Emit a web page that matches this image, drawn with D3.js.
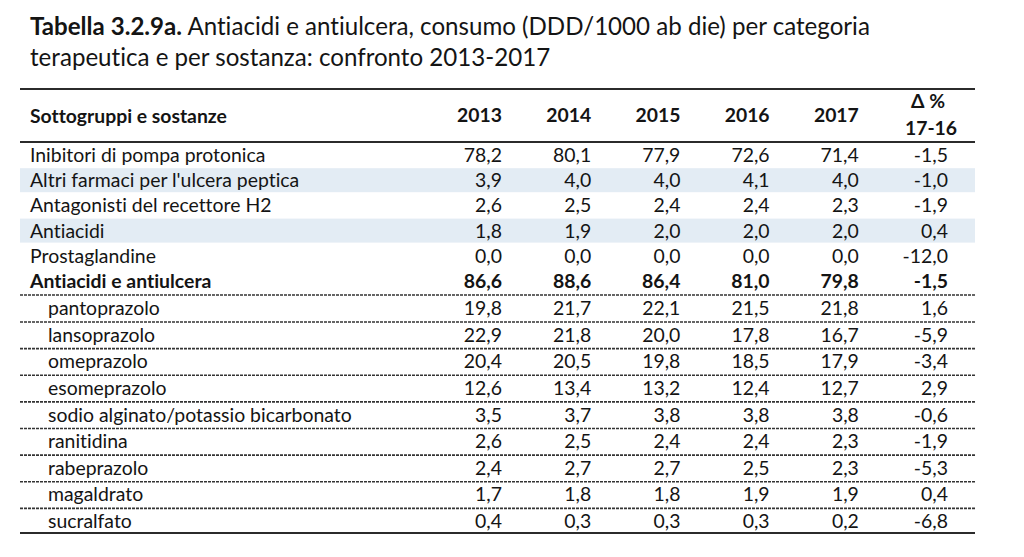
<!DOCTYPE html>
<html><head><meta charset="utf-8">
<script src="https://cdn.jsdelivr.net/npm/d3@7"></script>
<style>html,body{margin:0;padding:0;background:#fff;}svg{display:block;}
text{font-variant-ligatures:none;font-feature-settings:"liga" 0,"clig" 0;}</style>
</head><body>
<svg id="c" width="1024" height="557"></svg>
<script>
// ---- data ----
const columns = ["2013", "2014", "2015", "2016", "2017", "delta"];
const headerYears = ["2013", "2014", "2015", "2016", "2017"];
const deltaHeader = ["Δ %", "17-16"];
const categories = ["Inibitori di pompa protonica", "Altri farmaci per l'ulcera peptica", "Antagonisti del recettore H2", "Antiacidi", "Prostaglandine", "Antiacidi e antiulcera"];
const categoryValues = [
  [78.2, 80.1, 77.9, 72.6, 71.4, -1.5],
  [3.9, 4.0, 4.0, 4.1, 4.0, -1.0],
  [2.6, 2.5, 2.4, 2.4, 2.3, -1.9],
  [1.8, 1.9, 2.0, 2.0, 2.0, 0.4],
  [0.0, 0.0, 0.0, 0.0, 0.0, -12.0],
  [86.6, 88.6, 86.4, 81.0, 79.8, -1.5]
];
const substances = ["pantoprazolo", "lansoprazolo", "omeprazolo", "esomeprazolo", "sodio alginato/potassio bicarbonato", "ranitidina", "rabeprazolo", "magaldrato", "sucralfato"];
const substanceValues = [
  [19.8, 21.7, 22.1, 21.5, 21.8, 1.6],
  [22.9, 21.8, 20.0, 17.8, 16.7, -5.9],
  [20.4, 20.5, 19.8, 18.5, 17.9, -3.4],
  [12.6, 13.4, 13.2, 12.4, 12.7, 2.9],
  [3.5, 3.7, 3.8, 3.8, 3.8, -0.6],
  [2.6, 2.5, 2.4, 2.4, 2.3, -1.9],
  [2.4, 2.7, 2.7, 2.5, 2.3, -5.3],
  [1.7, 1.8, 1.8, 1.9, 1.9, 0.4],
  [0.4, 0.3, 0.3, 0.3, 0.2, -6.8]
];
const titleBold = "Tabella 3.2.9a.";
const titleRest1 = " Antiacidi e antiulcera, consumo (DDD/1000 ab die) per categoria";
const titleLine2 = "terapeutica e per sostanza: confronto 2013-2017";
const headerLabel = "Sottogruppi e sostanze";
const shadedCategories = ["Altri farmaci per l'ulcera peptica", "Antiacidi"];
const totalCategory = "Antiacidi e antiulcera";

// ---- layout ----
const FONT = "Lato, 'Open Sans', sans-serif";
const TXT = "#141414";
const svg = d3.select("#c");
const fmt = v => d3.format(".1f")(v).replace(".", ",").replace("−", "-");

const tableL = 20, tableR = 975;
const x = d3.scalePoint().domain(columns).range([502, 948]);
const yCat = d3.scalePoint().domain(categories).range([162, 288]);
const ySub = d3.scalePoint().domain(substances).range([315, 528]);

function fitSize(text, weight, targetW) {
  const t = svg.append("text").attr("font-family", FONT).attr("font-weight", weight)
    .attr("font-size", 100).text(text);
  const w = t.node().getComputedTextLength();
  t.remove();
  return 100 * targetW / w;
}
const bodySize = fitSize("sodio alginato/potassio bicarbonato", 400, 304);
const headSize = fitSize(headerLabel, 700, 197);
const titleSize = (function(){
  const t = svg.append("text").attr("font-family", FONT).attr("font-size", 100);
  t.append("tspan").attr("font-weight", 700).text(titleBold);
  t.append("tspan").text(titleRest1);
  const w = t.node().getComputedTextLength(); t.remove();
  return 100 * 840 / w;
})();

const title = svg.append("text").attr("x", 30).attr("y", 35)
  .attr("font-family", FONT).attr("font-size", titleSize).attr("fill", TXT);
title.append("tspan").attr("font-weight", 700).text(titleBold);
title.append("tspan").text(titleRest1);
svg.append("text").attr("x", 30).attr("y", 66).attr("font-family", FONT)
  .attr("font-size", titleSize).attr("fill", TXT).text(titleLine2);

// shading
svg.selectAll("rect.shade").data(shadedCategories).join("rect")
  .attr("class", "shade")
  .attr("x", tableL).attr("width", tableR - tableL)
  .attr("y", d => yCat(d) - 19).attr("height", 24)
  .attr("fill", "#e3ecf4");

// rules
const solid = [89, 142, 533];
svg.selectAll("line.solid").data(solid).join("line")
  .attr("x1", tableL).attr("x2", tableR).attr("y1", d => d).attr("y2", d => d)
  .attr("stroke", "#2b2b2b").attr("stroke-width", 2);
const dashedY = [yCat(totalCategory) + 7].concat(substances.slice(0, -1).map(s => ySub(s) + 7));
svg.selectAll("line.dash").data(dashedY).join("line")
  .attr("x1", tableL).attr("x2", tableR).attr("y1", d => d).attr("y2", d => d)
  .attr("stroke", "#333").attr("stroke-width", 1.6).attr("stroke-dasharray", "3,1");

// header
svg.append("text").attr("x", 30).attr("y", 123).attr("font-family", FONT)
  .attr("font-weight", 700).attr("font-size", headSize).attr("fill", TXT).text(headerLabel);
svg.selectAll("text.yr").data(headerYears).join("text")
  .attr("x", d => x(d)).attr("y", 122).attr("text-anchor", "end")
  .attr("font-family", FONT).attr("font-weight", 700).attr("font-size", headSize)
  .attr("fill", TXT).text(d => d);
svg.selectAll("text.dh").data(deltaHeader).join("text")
  .attr("x", (d, i) => x("delta") - (i ? 17 : 20)).attr("y", (d, i) => i ? 135 : 108).attr("text-anchor", "middle")
  .attr("font-family", FONT).attr("font-weight", 700).attr("font-size", headSize)
  .attr("fill", TXT).text(d => d);

// category rows
const catG = svg.selectAll("g.cat").data(categories).join("g")
  .attr("transform", d => `translate(0,${yCat(d)})`)
  .attr("font-family", FONT).attr("font-size", bodySize).attr("fill", TXT)
  .attr("font-weight", d => d === totalCategory ? 700 : 400);
catG.append("text").attr("x", 30).text(d => d);
catG.selectAll("text.v").data((d, i) => categoryValues[i].map((v, j) => ({v, c: columns[j]})))
  .join("text").attr("class", "v").attr("text-anchor", "end")
  .attr("x", d => x(d.c)).text(d => fmt(d.v));

// substance rows
const subG = svg.selectAll("g.sub").data(substances).join("g")
  .attr("transform", d => `translate(0,${ySub(d)})`)
  .attr("font-family", FONT).attr("font-size", bodySize).attr("fill", TXT);
subG.append("text").attr("x", 48).text(d => d);
subG.selectAll("text.v").data((d, i) => substanceValues[i].map((v, j) => ({v, c: columns[j]})))
  .join("text").attr("class", "v").attr("text-anchor", "end")
  .attr("x", d => x(d.c)).text(d => fmt(d.v));
</script>
</body></html>
